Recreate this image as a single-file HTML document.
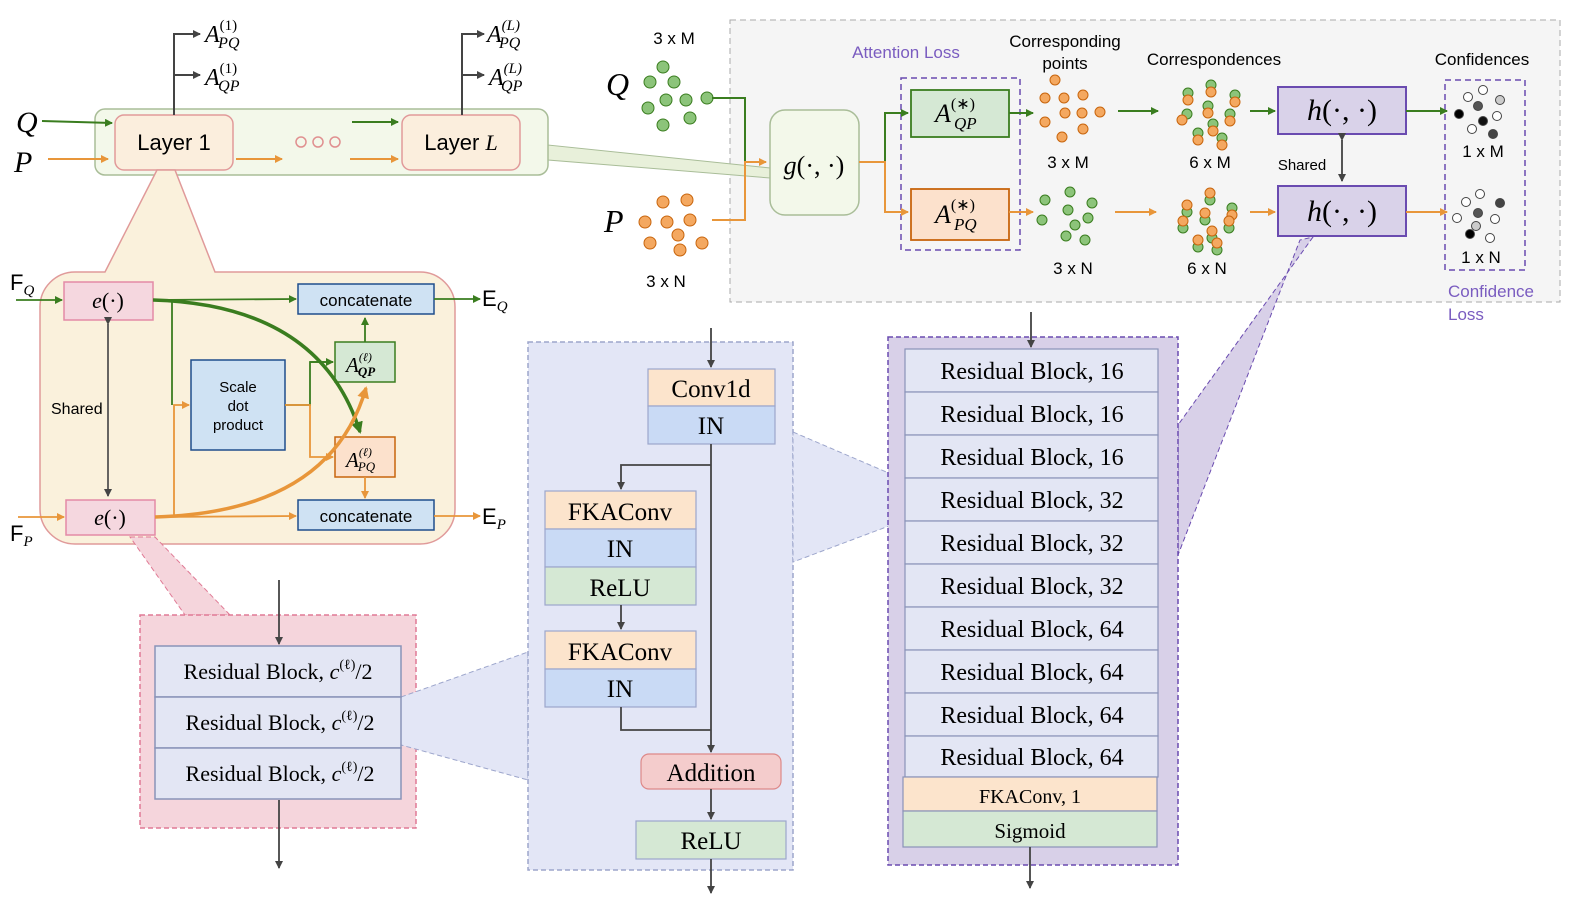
<!DOCTYPE html>
<html><head><meta charset="utf-8"><style>
body{margin:0;background:#fff}
svg{display:block;font-family:"Liberation Sans",sans-serif}
.m{font-family:"Liberation Serif",serif;font-style:italic}
.s{font-family:"Liberation Serif",serif}
</style></head><body>
<svg width="1587" height="911" viewBox="0 0 1587 911" xmlns="http://www.w3.org/2000/svg">
<defs>
<marker id="g" markerWidth="8" markerHeight="8" refX="7" refY="4" orient="auto" markerUnits="userSpaceOnUse"><path d="M0,0L8,4L0,8z" fill="#3a7d1f"/></marker>
<marker id="o" markerWidth="8" markerHeight="8" refX="7" refY="4" orient="auto" markerUnits="userSpaceOnUse"><path d="M0,0L8,4L0,8z" fill="#e8963a"/></marker>
<marker id="k" markerWidth="8" markerHeight="8" refX="7" refY="4" orient="auto" markerUnits="userSpaceOnUse"><path d="M0,0L8,4L0,8z" fill="#444"/></marker>
<marker id="G" markerWidth="12" markerHeight="12" refX="10" refY="6" orient="auto" markerUnits="userSpaceOnUse"><path d="M0,0L12,6L0,12z" fill="#3a7d1f"/></marker>
<marker id="O" markerWidth="12" markerHeight="12" refX="10" refY="6" orient="auto" markerUnits="userSpaceOnUse"><path d="M0,0L12,6L0,12z" fill="#e8963a"/></marker>
</defs>

<rect x="730" y="20" width="830" height="282" fill="#f5f5f5" stroke="#aaa" stroke-dasharray="6,4"/>
<polygon points="548,145 548,160 770,178 770,168" fill="#e8f0da" stroke="#a9bd98"/>
<rect x="95" y="109" width="453" height="66" rx="10" fill="#f3f8ea" stroke="#a9bd98" stroke-width="1.5"/>
<rect x="115" y="115" width="118" height="55" rx="9" fill="#fbeedd" stroke="#e19a9a" stroke-width="1.5"/>
<text x="174" y="150" font-size="22" text-anchor="middle">Layer 1</text>
<rect x="402" y="115" width="118" height="55" rx="9" fill="#fbeedd" stroke="#e19a9a" stroke-width="1.5"/>
<text x="461" y="150" font-size="22" text-anchor="middle">Layer <tspan class="m">L</tspan></text>
<g fill="none" stroke="#e09090" stroke-width="1.5"><circle cx="301" cy="142" r="5"/><circle cx="318" cy="142" r="5"/><circle cx="335" cy="142" r="5"/></g>
<text x="16" y="132" class="m" font-size="30">Q</text>
<text x="14" y="172" class="m" font-size="30">P</text>
<g stroke-width="2" fill="none">
<line x1="42" y1="121" x2="112" y2="123" stroke="#3a7d1f" marker-end="url(#g)"/>
<line x1="48" y1="159" x2="108" y2="159" stroke="#e8963a" marker-end="url(#o)"/>
<line x1="236" y1="159" x2="282" y2="159" stroke="#e8963a" marker-end="url(#o)"/>
<line x1="352" y1="122" x2="398" y2="122" stroke="#3a7d1f" marker-end="url(#g)"/>
<line x1="350" y1="159" x2="398" y2="159" stroke="#e8963a" marker-end="url(#o)"/>
<path d="M174,115V34H200M174,75H200" stroke="#444"/>
<line x1="174" y1="34" x2="200" y2="34" stroke="#444" marker-end="url(#k)"/>
<line x1="174" y1="75" x2="200" y2="75" stroke="#444" marker-end="url(#k)"/>
<path d="M462,115V34H484M462,75H484" stroke="#444"/>
<line x1="462" y1="34" x2="484" y2="34" stroke="#444" marker-end="url(#k)"/>
<line x1="462" y1="75" x2="484" y2="75" stroke="#444" marker-end="url(#k)"/>
</g>
<g class="m" font-size="24">
<text x="205" y="42">A<tspan font-size="15" dy="-12" class="s" font-style="normal">(1)</tspan><tspan font-size="16" dx="-19" dy="18">PQ</tspan></text>
<text x="205" y="85">A<tspan font-size="15" dy="-12" class="s" font-style="normal">(1)</tspan><tspan font-size="16" dx="-19" dy="18">QP</tspan></text>
<text x="487" y="42">A<tspan font-size="15" dy="-12">(L)</tspan><tspan font-size="16" dx="-21" dy="18">PQ</tspan></text>
<text x="489" y="85">A<tspan font-size="15" dy="-12">(L)</tspan><tspan font-size="16" dx="-21" dy="18">QP</tspan></text>
</g>

<path d="M157,170 L175,170 L215,272 L420,272 A35,35 0 0 1 455,307 L455,509 A35,35 0 0 1 420,544 L75,544 A35,35 0 0 1 40,509 L40,307 A35,35 0 0 1 75,272 L105,272 Z" fill="#faf1dc" stroke="#e09a9a" stroke-width="1.5"/>
<rect x="64" y="282" width="89" height="38" fill="#f5d7df" stroke="#e38aa6" stroke-width="1.5"/>
<text x="108" y="308" class="m" font-size="22" text-anchor="middle">e<tspan font-style="normal">(·)</tspan></text>
<rect x="66" y="500" width="89" height="35" fill="#f5d7df" stroke="#e38aa6" stroke-width="1.5"/>
<text x="110" y="525" class="m" font-size="22" text-anchor="middle">e<tspan font-style="normal">(·)</tspan></text>
<rect x="298" y="284" width="136" height="30" fill="#cfe2f3" stroke="#1f4e8c" stroke-width="1.5"/>
<text x="366" y="306" font-size="17" text-anchor="middle">concatenate</text>
<rect x="298" y="500" width="136" height="30" fill="#cfe2f3" stroke="#1f4e8c" stroke-width="1.5"/>
<text x="366" y="522" font-size="17" text-anchor="middle">concatenate</text>
<rect x="191" y="360" width="94" height="90" fill="#cfe2f3" stroke="#1f4e8c" stroke-width="1.5"/>
<text x="238" y="392" font-size="15" text-anchor="middle">Scale</text>
<text x="238" y="411" font-size="15" text-anchor="middle">dot</text>
<text x="238" y="430" font-size="15" text-anchor="middle">product</text>
<rect x="335" y="342" width="60" height="40" fill="#d5e8d4" stroke="#3a7d1f" stroke-width="1.5"/>
<text x="346" y="372" class="m" font-size="21">A<tspan font-size="12" dy="-11">(ℓ)</tspan><tspan font-size="13" dx="-14" dy="15" font-weight="bold">QP</tspan></text>
<rect x="335" y="437" width="60" height="40" fill="#fce1cc" stroke="#c8650d" stroke-width="1.5"/>
<text x="346" y="467" class="m" font-size="21">A<tspan font-size="12" dy="-11">(ℓ)</tspan><tspan font-size="13" dx="-14" dy="15">PQ</tspan></text>
<text x="51" y="414" font-size="16">Shared</text>
<text x="10" y="290" font-size="22">F<tspan class="m" font-size="15" dy="5">Q</tspan></text>
<text x="10" y="541" font-size="22">F<tspan class="m" font-size="15" dy="5">P</tspan></text>
<text x="482" y="306" font-size="22">E<tspan class="m" font-size="15" dy="5">Q</tspan></text>
<text x="482" y="524" font-size="22">E<tspan class="m" font-size="15" dy="5">P</tspan></text>
<g fill="none" stroke-width="1.8">
<line x1="108" y1="324" x2="108" y2="496" stroke="#555" marker-end="url(#k)" marker-start="url(#k)"/>
<line x1="16" y1="300" x2="62" y2="300" stroke="#3a7d1f" marker-end="url(#g)"/>
<line x1="18" y1="517" x2="64" y2="517" stroke="#e8963a" marker-end="url(#o)"/>
<line x1="153" y1="300" x2="296" y2="299" stroke="#3a7d1f" marker-end="url(#g)"/>
<line x1="155" y1="517" x2="296" y2="516" stroke="#e8963a" marker-end="url(#o)"/>
<line x1="434" y1="299" x2="480" y2="299" stroke="#3a7d1f" marker-end="url(#g)"/>
<line x1="434" y1="516" x2="480" y2="516" stroke="#e8963a" marker-end="url(#o)"/>
<path d="M172,300V405" stroke="#3a7d1f"/>
<path d="M174,517V405H189" stroke="#e8963a" marker-end="url(#o)"/>
<path d="M285,405H310V362H333" stroke="#3a7d1f"/>
<path d="M285,405H310V457H333" stroke="#e8963a" marker-end="url(#o)"/>
<line x1="310" y1="362" x2="333" y2="362" stroke="#3a7d1f" marker-end="url(#g)"/>
<line x1="365" y1="342" x2="365" y2="318" stroke="#3a7d1f" marker-end="url(#g)"/>
<line x1="365" y1="477" x2="365" y2="498" stroke="#e8963a" marker-end="url(#o)"/>
<path d="M153,300 Q320,305 360,432" stroke="#3a7d1f" stroke-width="3.5" marker-end="url(#G)"/>
<path d="M155,517 Q330,512 366,388" stroke="#e8963a" stroke-width="3.5" marker-end="url(#O)"/>
</g>

<polygon points="130,537 155,537 230,615 185,615" fill="#f5d5dc" stroke="#e07a95" stroke-dasharray="5,3"/>
<rect x="140" y="615" width="276" height="213" fill="#f5d5dc" stroke="#e07a95" stroke-dasharray="5,3" stroke-width="1.5"/>
<polygon points="401,697 528,652 528,780 401,745" fill="#e3e6f6" stroke="#9da6cc" stroke-dasharray="5,3"/>
<g fill="#e3e6f4" stroke="#8a93b8" stroke-width="1.5">
<rect x="155" y="646" width="246" height="51"/><rect x="155" y="697" width="246" height="51"/><rect x="155" y="748" width="246" height="51"/></g>
<g class="s" font-size="22" text-anchor="middle">
<text x="278" y="679">Residual Block, <tspan class="m">c</tspan><tspan font-size="14" dy="-10">(ℓ)</tspan><tspan dy="10">/2</tspan></text>
<text x="280" y="730">Residual Block, <tspan class="m">c</tspan><tspan font-size="14" dy="-10">(ℓ)</tspan><tspan dy="10">/2</tspan></text>
<text x="280" y="781">Residual Block, <tspan class="m">c</tspan><tspan font-size="14" dy="-10">(ℓ)</tspan><tspan dy="10">/2</tspan></text>
</g>
<line x1="279" y1="580" x2="279" y2="644" stroke="#444" stroke-width="1.8" marker-end="url(#k)"/>
<line x1="279" y1="800" x2="279" y2="868" stroke="#444" stroke-width="1.8" marker-end="url(#k)"/>

<rect x="528" y="342" width="265" height="528" fill="#e3e6f6" stroke="#9da6cc" stroke-dasharray="5,3" stroke-width="1.5"/>
<polygon points="793,432 905,480 905,520 793,562" fill="#e3e6f6" stroke="#9da6cc" stroke-dasharray="5,3"/>
<g stroke="#9da6cc" stroke-width="1.2">
<rect x="648" y="369" width="127" height="37" fill="#fce4cc"/>
<rect x="648" y="406" width="127" height="38" fill="#c9daf5"/>
<rect x="545" y="491" width="151" height="38" fill="#fce4cc"/>
<rect x="545" y="529" width="151" height="38" fill="#c9daf5"/>
<rect x="545" y="567" width="151" height="38" fill="#d5e8d4"/>
<rect x="545" y="631" width="151" height="38" fill="#fce4cc"/>
<rect x="545" y="669" width="151" height="38" fill="#c9daf5"/>
<rect x="641" y="754" width="140" height="35" rx="8" fill="#f4cccc" stroke="#d88"/>
<rect x="636" y="821" width="150" height="38" fill="#d5e8d4"/>
</g>
<g class="s" font-size="25" text-anchor="middle">
<text x="711" y="397">Conv1d</text><text x="711" y="434">IN</text>
<text x="620" y="520">FKAConv</text><text x="620" y="557">IN</text><text x="620" y="596">ReLU</text>
<text x="620" y="660">FKAConv</text><text x="620" y="697">IN</text>
<text x="711" y="781">Addition</text><text x="711" y="849">ReLU</text>
</g>
<g stroke="#444" stroke-width="1.8" fill="none">
<line x1="711" y1="328" x2="711" y2="367" marker-end="url(#k)"/>
<line x1="711" y1="444" x2="711" y2="752" marker-end="url(#k)"/>
<path d="M711,465H621V489" marker-end="url(#k)"/>
<line x1="621" y1="605" x2="621" y2="629" marker-end="url(#k)"/>
<path d="M621,707V730H711"/>
<line x1="711" y1="789" x2="711" y2="819" marker-end="url(#k)"/>
<line x1="711" y1="859" x2="711" y2="893" marker-end="url(#k)"/>
</g>

<polygon points="1313,237 1178,425 1178,555 1300,240" fill="#d8d0e8" stroke="#6a4bb0" stroke-dasharray="5,3"/>
<rect x="888" y="337" width="290" height="528" fill="#d8d0e8" stroke="#6a4bb0" stroke-dasharray="5,3" stroke-width="1.5"/>
<g fill="#e3e6f4" stroke="#8a93b8" stroke-width="1.2">
<rect x="905" y="349" width="253" height="43"/><rect x="905" y="392" width="253" height="43"/><rect x="905" y="435" width="253" height="43"/><rect x="905" y="478" width="253" height="43"/><rect x="905" y="521" width="253" height="43"/><rect x="905" y="564" width="253" height="43"/><rect x="905" y="607" width="253" height="43"/><rect x="905" y="650" width="253" height="43"/><rect x="905" y="693" width="253" height="43"/><rect x="905" y="736" width="253" height="41"/>
<rect x="903" y="777" width="254" height="34" fill="#fce4cc"/><rect x="903" y="811" width="254" height="36" fill="#d5e8d4"/>
</g>
<g class="s" font-size="24" text-anchor="middle">
<text x="1032" y="379">Residual Block, 16</text><text x="1032" y="422">Residual Block, 16</text><text x="1032" y="465">Residual Block, 16</text>
<text x="1032" y="508">Residual Block, 32</text><text x="1032" y="551">Residual Block, 32</text><text x="1032" y="594">Residual Block, 32</text>
<text x="1032" y="637">Residual Block, 64</text><text x="1032" y="680">Residual Block, 64</text><text x="1032" y="723">Residual Block, 64</text><text x="1032" y="765">Residual Block, 64</text>
<text x="1030" y="803" font-size="20">FKAConv, 1</text><text x="1030" y="838" font-size="21">Sigmoid</text>
</g>
<line x1="1031" y1="312" x2="1031" y2="347" stroke="#444" stroke-width="1.8" marker-end="url(#k)"/>
<line x1="1030" y1="847" x2="1030" y2="888" stroke="#444" stroke-width="1.8" marker-end="url(#k)"/>

<text x="674" y="44" font-size="17" text-anchor="middle">3 x M</text>
<text x="666" y="287" font-size="17" text-anchor="middle">3 x N</text>
<text x="606" y="95" class="m" font-size="32">Q</text>
<text x="604" y="232" class="m" font-size="32">P</text>
<g fill="#8cc47a" stroke="#3a7d1f" stroke-width="1">
<circle cx="663" cy="67" r="6"/><circle cx="650" cy="82" r="6"/><circle cx="674" cy="82" r="6"/><circle cx="648" cy="108" r="6"/><circle cx="666" cy="100" r="6"/><circle cx="686" cy="100" r="6"/><circle cx="707" cy="98" r="6"/><circle cx="690" cy="118" r="6"/><circle cx="663" cy="125" r="6"/>
<circle cx="1070" cy="192" r="5"/><circle cx="1045" cy="200" r="5"/><circle cx="1092" cy="203" r="5"/><circle cx="1068" cy="210" r="5"/><circle cx="1088" cy="218" r="5"/><circle cx="1042" cy="220" r="5"/><circle cx="1075" cy="225" r="5"/><circle cx="1066" cy="236" r="5"/><circle cx="1085" cy="240" r="5"/>
</g>
<g fill="#f4a860" stroke="#c8650d" stroke-width="1">
<circle cx="663" cy="202" r="6"/><circle cx="687" cy="200" r="6"/><circle cx="645" cy="222" r="6"/><circle cx="667" cy="222" r="6"/><circle cx="690" cy="220" r="6"/><circle cx="678" cy="235" r="6"/><circle cx="650" cy="243" r="6"/><circle cx="702" cy="243" r="6"/><circle cx="680" cy="250" r="6"/>
<circle cx="1055" cy="80" r="5"/><circle cx="1045" cy="98" r="5"/><circle cx="1064" cy="98" r="5"/><circle cx="1083" cy="95" r="5"/><circle cx="1100" cy="112" r="5"/><circle cx="1065" cy="113" r="5"/><circle cx="1082" cy="113" r="5"/><circle cx="1045" cy="122" r="5"/><circle cx="1083" cy="129" r="5"/><circle cx="1062" cy="137" r="5"/>
</g>
<g stroke-width="1">
<g fill="#8cc47a" stroke="#3a7d1f"><circle cx="1188" cy="93" r="5"/><circle cx="1211" cy="85" r="5"/><circle cx="1235" cy="95" r="5"/><circle cx="1187" cy="114" r="5"/><circle cx="1208" cy="106" r="5"/><circle cx="1230" cy="114" r="5"/><circle cx="1213" cy="124" r="5"/><circle cx="1198" cy="133" r="5"/><circle cx="1222" cy="138" r="5"/>
<circle cx="1187" cy="212" r="5"/><circle cx="1210" cy="200" r="5"/><circle cx="1232" cy="208" r="5"/><circle cx="1183" cy="228" r="5"/><circle cx="1205" cy="220" r="5"/><circle cx="1229" cy="228" r="5"/><circle cx="1212" cy="238" r="5"/><circle cx="1198" cy="247" r="5"/><circle cx="1217" cy="250" r="5"/></g>
<g fill="#f4a860" stroke="#c8650d"><circle cx="1188" cy="100" r="5"/><circle cx="1211" cy="92" r="5"/><circle cx="1235" cy="102" r="5"/><circle cx="1182" cy="120" r="5"/><circle cx="1208" cy="113" r="5"/><circle cx="1230" cy="121" r="5"/><circle cx="1213" cy="131" r="5"/><circle cx="1198" cy="140" r="5"/><circle cx="1222" cy="145" r="5"/>
<circle cx="1187" cy="205" r="5"/><circle cx="1210" cy="193" r="5"/><circle cx="1232" cy="215" r="5"/><circle cx="1183" cy="221" r="5"/><circle cx="1205" cy="213" r="5"/><circle cx="1229" cy="221" r="5"/><circle cx="1212" cy="231" r="5"/><circle cx="1198" cy="240" r="5"/><circle cx="1217" cy="243" r="5"/></g>
</g>
<g stroke="#444" stroke-width="1">
<circle cx="1468" cy="97" r="4.5" fill="#fff"/><circle cx="1483" cy="90" r="4.5" fill="#fff"/><circle cx="1500" cy="100" r="4.5" fill="#ccc"/><circle cx="1478" cy="106" r="4.5" fill="#555"/><circle cx="1459" cy="114" r="4.5" fill="#000"/><circle cx="1483" cy="121" r="4.5" fill="#111"/><circle cx="1497" cy="116" r="4.5" fill="#fff"/><circle cx="1472" cy="129" r="4.5" fill="#fff"/><circle cx="1493" cy="134" r="4.5" fill="#444"/>
<circle cx="1466" cy="202" r="4.5" fill="#fff"/><circle cx="1480" cy="194" r="4.5" fill="#fff"/><circle cx="1500" cy="203" r="4.5" fill="#444"/><circle cx="1478" cy="213" r="4.5" fill="#555"/><circle cx="1457" cy="218" r="4.5" fill="#fff"/><circle cx="1495" cy="219" r="4.5" fill="#fff"/><circle cx="1476" cy="226" r="4.5" fill="#ccc"/><circle cx="1470" cy="234" r="4.5" fill="#000"/><circle cx="1490" cy="238" r="4.5" fill="#fff"/>
</g>
<rect x="770" y="110" width="89" height="105" rx="15" fill="#f3f8ea" stroke="#a9bd98" stroke-width="1.5"/>
<text x="814" y="174" class="m" font-size="26" text-anchor="middle">g<tspan font-style="normal">(·, ·)</tspan></text>
<rect x="901" y="78" width="119" height="172" fill="none" stroke="#6a4bb0" stroke-dasharray="6,4" stroke-width="1.5"/>
<text x="906" y="58" font-size="17" fill="#7a5cc0" text-anchor="middle">Attention Loss</text>
<rect x="911" y="90" width="98" height="47" fill="#d5e8d4" stroke="#3a7d1f" stroke-width="1.8"/>
<text x="935" y="122" class="m" font-size="26">A<tspan font-size="16" dy="-13" font-style="normal">(∗)</tspan><tspan font-size="17" dx="-21" dy="20">QP</tspan></text>
<rect x="911" y="189" width="98" height="51" fill="#fce1cc" stroke="#c8650d" stroke-width="1.8"/>
<text x="935" y="223" class="m" font-size="26">A<tspan font-size="16" dy="-13" font-style="normal">(∗)</tspan><tspan font-size="17" dx="-21" dy="20">PQ</tspan></text>
<text x="1065" y="47" font-size="17" text-anchor="middle">Corresponding</text>
<text x="1065" y="69" font-size="17" text-anchor="middle">points</text>
<text x="1068" y="168" font-size="17" text-anchor="middle">3 x M</text>
<text x="1073" y="274" font-size="17" text-anchor="middle">3 x N</text>
<text x="1214" y="65" font-size="17" text-anchor="middle">Correspondences</text>
<text x="1210" y="168" font-size="17" text-anchor="middle">6 x M</text>
<text x="1207" y="274" font-size="17" text-anchor="middle">6 x N</text>
<rect x="1278" y="87" width="128" height="47" fill="#d9d2e9" stroke="#6a4bb0" stroke-width="2"/>
<text x="1342" y="120" class="m" font-size="30" text-anchor="middle">h<tspan font-style="normal">(·, ·)</tspan></text>
<rect x="1278" y="186" width="128" height="50" fill="#d9d2e9" stroke="#6a4bb0" stroke-width="2"/>
<text x="1342" y="221" class="m" font-size="30" text-anchor="middle">h<tspan font-style="normal">(·, ·)</tspan></text>
<text x="1302" y="170" font-size="15" text-anchor="middle">Shared</text>
<rect x="1445" y="80" width="80" height="190" fill="none" stroke="#6a4bb0" stroke-dasharray="6,4" stroke-width="1.5"/>
<text x="1482" y="65" font-size="17" text-anchor="middle">Confidences</text>
<text x="1483" y="157" font-size="17" text-anchor="middle">1 x M</text>
<text x="1481" y="263" font-size="17" text-anchor="middle">1 x N</text>
<text x="1448" y="297" font-size="17" fill="#7a5cc0">Confidence</text>
<text x="1448" y="320" font-size="17" fill="#7a5cc0">Loss</text>
<g fill="none" stroke-width="2">
<path d="M712,98H745V162H766" stroke="#3a7d1f"/>
<path d="M712,220H745V162H766" stroke="#e8963a" marker-end="url(#o)"/>
<path d="M859,162H885V113H908" stroke="#3a7d1f" marker-end="url(#g)"/>
<path d="M859,162H885V212H908" stroke="#e8963a" marker-end="url(#o)"/>
<line x1="1009" y1="113" x2="1033" y2="113" stroke="#3a7d1f" marker-end="url(#g)"/>
<line x1="1009" y1="212" x2="1033" y2="212" stroke="#e8963a" marker-end="url(#o)"/>
<line x1="1118" y1="111" x2="1158" y2="111" stroke="#3a7d1f" marker-end="url(#g)"/>
<line x1="1115" y1="212" x2="1156" y2="212" stroke="#e8963a" marker-end="url(#o)"/>
<line x1="1250" y1="111" x2="1275" y2="111" stroke="#3a7d1f" marker-end="url(#g)"/>
<line x1="1250" y1="212" x2="1275" y2="212" stroke="#e8963a" marker-end="url(#o)"/>
<line x1="1406" y1="111" x2="1447" y2="111" stroke="#3a7d1f" marker-end="url(#g)"/>
<line x1="1406" y1="212" x2="1447" y2="212" stroke="#e8963a" marker-end="url(#o)"/>
<line x1="1342" y1="140" x2="1342" y2="181" stroke="#555" marker-end="url(#k)" marker-start="url(#k)"/>
</g>
</svg>
</body></html>
